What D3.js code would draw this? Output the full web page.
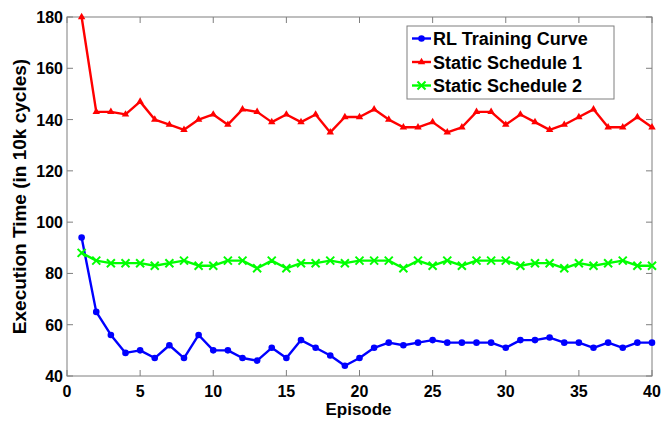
<!DOCTYPE html>
<html>
<head>
<meta charset="utf-8">
<script src="https://d3js.org/d3.v7.min.js"></script>
<style>
  body { margin: 0; background: #fff; }
  text { font-family: Arial, "Liberation Sans", sans-serif; font-weight: bold; }
</style>
</head>
<body>
<div id="chart"></div>
<script>
// episodes 1..40
var episodes = d3.range(1, 41);
var rlCurve = [94, 65, 56, 49, 50, 47, 52, 47, 56, 50,
               50, 47, 46, 51, 47, 54, 51, 48, 44, 47,
               51, 53, 52, 53, 54, 53, 53, 53, 53, 51,
               54, 54, 55, 53, 53, 51, 53, 51, 53, 53];
var static1 = [180, 143, 143, 142, 147, 140, 138, 136, 140, 142,
               138, 144, 143, 139, 142, 139, 142, 135, 141, 141,
               144, 140, 137, 137, 139, 135, 137, 143, 143, 138,
               142, 139, 136, 138, 141, 144, 137, 137, 141, 137];
var static2 = [88, 85, 84, 84, 84, 83, 84, 85, 83, 83,
               85, 85, 82, 85, 82, 84, 84, 85, 84, 85,
               85, 85, 82, 85, 83, 85, 83, 85, 85, 85,
               83, 84, 84, 82, 84, 83, 84, 85, 83, 83];
var xTicks = [0, 5, 10, 15, 20, 25, 30, 35, 40];
var yTicks = [40, 60, 80, 100, 120, 140, 160, 180];

var series = [
  {name: "RL Training Curve", values: rlCurve, color: "#0000ff", marker: "circle"},
  {name: "Static Schedule 1", values: static1, color: "#ff0000", marker: "triangle"},
  {name: "Static Schedule 2", values: static2, color: "#00ff00", marker: "x"}
];

var W = 665, H = 421;
var pl = 67, pr = 652, pt = 17, pb = 376;
var axisColor = "#7f7f7f";

var svg = d3.select("#chart").append("svg").attr("width", W).attr("height", H);

var x = d3.scaleLinear().domain([0, 40]).range([pl, pr]);
var y = d3.scaleLinear().domain([40, 180]).range([pb, pt]);

// box
svg.append("rect")
  .attr("x", pl).attr("y", pt)
  .attr("width", pr - pl).attr("height", pb - pt)
  .attr("fill", "none").attr("stroke", axisColor).attr("stroke-width", 1);

// ticks inward on all four sides
xTicks.forEach(function (t) {
  svg.append("line").attr("x1", x(t)).attr("x2", x(t)).attr("y1", pb).attr("y2", pb - 6)
    .attr("stroke", axisColor);
  svg.append("line").attr("x1", x(t)).attr("x2", x(t)).attr("y1", pt).attr("y2", pt + 6)
    .attr("stroke", axisColor);
  svg.append("text").attr("x", x(t)).attr("y", pb + 21)
    .attr("text-anchor", "middle").style("font-size", "16px").text(t);
});
yTicks.forEach(function (t) {
  svg.append("line").attr("x1", pl).attr("x2", pl + 6).attr("y1", y(t)).attr("y2", y(t))
    .attr("stroke", axisColor);
  svg.append("line").attr("x1", pr).attr("x2", pr - 6).attr("y1", y(t)).attr("y2", y(t))
    .attr("stroke", axisColor);
  svg.append("text").attr("x", pl - 4).attr("y", y(t) + 6)
    .attr("text-anchor", "end").style("font-size", "16px").text(t);
});

// axis labels
svg.append("text").attr("x", (pl + pr) / 2 - 1).attr("y", 415)
  .attr("text-anchor", "middle").style("font-size", "17px").text("Episode");
svg.append("text")
  .attr("transform", "translate(26," + ((pt + pb) / 2) + ") rotate(-90)")
  .attr("text-anchor", "middle").style("font-size", "19px")
  .text("Execution Time (in 10k cycles)");

function drawMarker(g, type, cx, cy, color) {
  if (type === "circle") {
    g.append("circle").attr("cx", cx).attr("cy", cy).attr("r", 3.3).attr("fill", color);
  } else if (type === "triangle") {
    g.append("path").attr("d", d3.symbol().type(d3.symbolTriangle).size(24)())
      .attr("transform", "translate(" + cx + "," + cy + ")").attr("fill", color);
  } else {
    var s = 4;
    g.append("path")
      .attr("d", "M" + (cx - s) + "," + (cy - s) + "L" + (cx + s) + "," + (cy + s) +
                 "M" + (cx - s) + "," + (cy + s) + "L" + (cx + s) + "," + (cy - s))
      .attr("stroke", color).attr("stroke-width", 2).attr("fill", "none");
  }
}

var line = d3.line().x(function (d, i) { return x(episodes[i]); }).y(function (d) { return y(d); });

series.forEach(function (s) {
  var g = svg.append("g");
  g.append("path").datum(s.values).attr("d", line)
    .attr("fill", "none").attr("stroke", s.color).attr("stroke-width", 2.4)
    .attr("stroke-linejoin", "round");
  s.values.forEach(function (v, i) {
    drawMarker(g, s.marker, x(episodes[i]), y(v), s.color);
  });
});

// legend
var lg = svg.append("g");
lg.append("rect").attr("x", 407).attr("y", 26).attr("width", 207).attr("height", 73)
  .attr("fill", "#fff").attr("stroke", axisColor);
series.forEach(function (s, i) {
  var ly = 38.5 + i * 23.5;
  lg.append("line").attr("x1", 412).attr("x2", 431).attr("y1", ly).attr("y2", ly)
    .attr("stroke", s.color).attr("stroke-width", 2.4);
  drawMarker(lg, s.marker, 421.5, ly, s.color);
  lg.append("text").attr("x", 433).attr("y", ly + 6.5).style("font-size", "18px").text(s.name);
});
</script>
</body>
</html>
